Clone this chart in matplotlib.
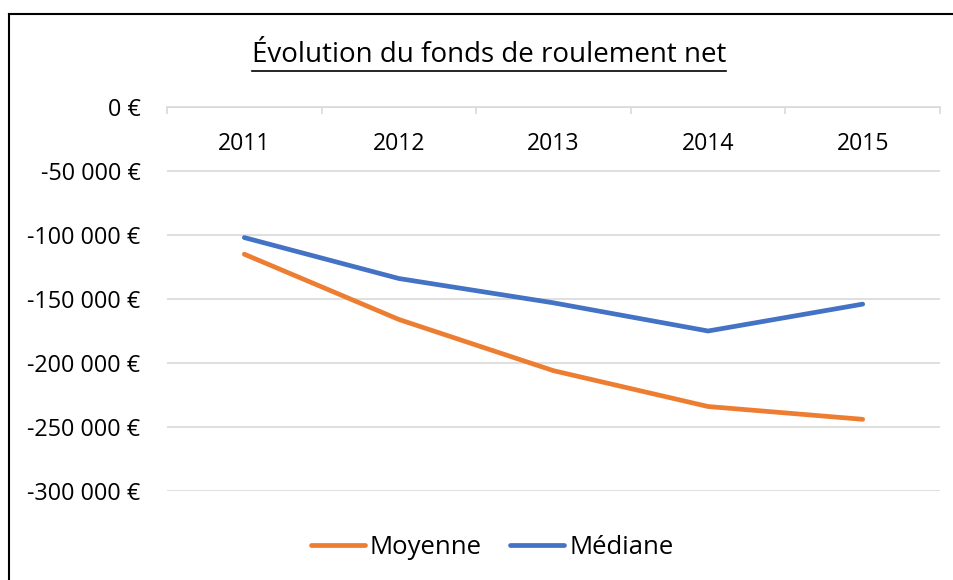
import matplotlib.pyplot as plt
from matplotlib.lines import Line2D
from matplotlib.ticker import FuncFormatter, FixedLocator

plt.rcParams['font.family'] = ['Open Sans', 'DejaVu Sans']

years = ['2011', '2012', '2013', '2014', '2015']
moyenne = [-115000, -166000, -206000, -234000, -244000]
mediane = [-102000, -134000, -153000, -175000, -154000]
y_ticks = [0, -50000, -100000, -150000, -200000, -250000, -300000]

W, H = 954, 580
fig = plt.figure(figsize=(W / 100, H / 100), dpi=100)
ax = fig.add_axes([167 / W, 1 - 491 / H, (940 - 167) / W, (491 - 107) / H])

x = range(len(years))
ax.plot(x, moyenne, color='#ED7D31', lw=3.4, solid_capstyle='round', label='Moyenne')
ax.plot(x, mediane, color='#4472C4', lw=3.4, solid_capstyle='round', label='Médiane')

ax.set_xlim(-0.5, len(years) - 0.5)
ax.set_ylim(-300000, 0)

# y axis formatting
def euro(v, pos):
    if v == 0:
        return '0 €'
    return '{:,.0f} €'.format(v).replace(',', ' ')

ax.set_yticks(y_ticks)
ax.yaxis.set_major_formatter(FuncFormatter(euro))
ax.tick_params(axis='y', length=0, pad=19, labelsize=16.8)
ax.grid(axis='y', color='#D9D9D9', lw=1.2)
ax.set_axisbelow(True)

# x axis sits on zero, labels below it
ax.spines['bottom'].set_position(('data', 0))
ax.spines['bottom'].set_color('#D9D9D9')
ax.spines['bottom'].set_linewidth(1.2)
for s in ['top', 'left', 'right']:
    ax.spines[s].set_visible(False)
ax.set_xticks(list(x))
ax.set_xticklabels(years)
ax.xaxis.set_minor_locator(FixedLocator([i - 0.5 for i in range(len(years) + 1)]))
ax.tick_params(axis='x', which='major', length=0, pad=18, labelsize=16.6)
ax.tick_params(axis='x', which='minor', length=5, color='#D9D9D9', width=1.2)

# title with underline
t = fig.text(489 / W, 1 - 55 / H, 'Évolution du fonds de roulement net',
             ha='center', va='center', fontsize=20)
fig.canvas.draw()
bb = t.get_window_extent()
fig.add_artist(Line2D([bb.x0 / W, bb.x1 / W], [1 - 71 / H, 1 - 71 / H],
                      color='black', lw=1.2))

ax.legend(loc='center', bbox_to_anchor=(492 / W, 1 - 547 / H),
          bbox_transform=fig.transFigure, ncol=2, frameon=False,
          fontsize=18.5, handlelength=2.1, handletextpad=0.2, columnspacing=1.1)

# chart border
fig.add_artist(Line2D([9 / W, 9 / W], [0, 1 - 14 / H], color='black', lw=1.5))
fig.add_artist(Line2D([9 / W, 1], [1 - 14 / H, 1 - 14 / H], color='black', lw=1.5))

fig.savefig('out.png', dpi=100)
